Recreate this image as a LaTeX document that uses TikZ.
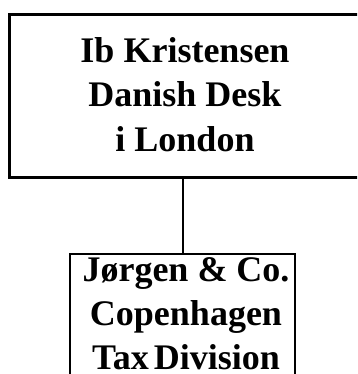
\documentclass[tikz,border=0pt]{standalone}
\usepackage{fontspec}
\setmainfont{Liberation Serif}
\begin{document}
\begin{tikzpicture}[x=1pt,y=-1pt,
  box/.style={draw=black, fill=white, line width=#1, inner sep=0pt, anchor=north west},
  lbl/.style={font=\bfseries\fontsize{36pt}{44pt}\selectfont, align=center, inner sep=0pt, anchor=base},
  link/.style={draw=black, line width=2pt}]
\useasboundingbox (0,0) rectangle (357,374);
\clip (0,0) rectangle (357,374);
\node[box=2.6pt, minimum width=356pt, minimum height=163pt] (top) at (8,13) {};
\node[box=2pt, minimum width=225pt, minimum height=140pt] (bottom) at (69,253) {};
\coordinate (ta) at (183,176);
\coordinate (ba) at (183,253);
\draw[link] (ta) -- (ba);
\node[lbl] (ttext) at (185,151) {Ib Kristensen\\Danish Desk\\i London};
\node[lbl] (btext) at (186,369) {Jørgen \& Co.\\Copenhagen\\Tax\hspace{-4pt} Division};
\end{tikzpicture}
\end{document}
